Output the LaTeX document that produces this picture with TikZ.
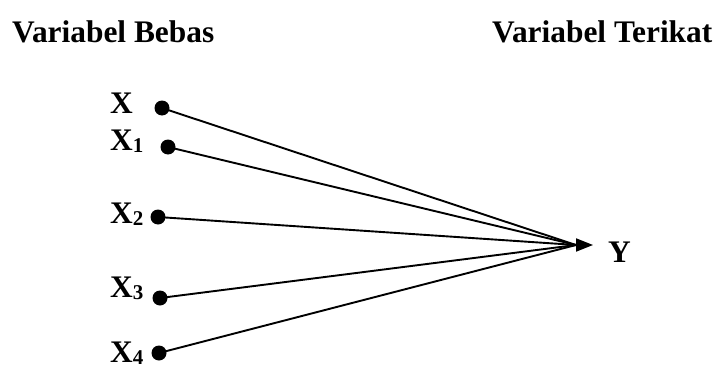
\documentclass[tikz,border=0pt]{standalone}
\usepackage{fontspec}
\setmainfont{Liberation Serif}
\usetikzlibrary{arrows.meta}
\tikzset{
  lbl/.style={inner sep=0pt, anchor=base west, font=\bfseries\fontsize{31.4}{36}\selectfont},
  dot/.style={circle, fill, inner sep=0pt, minimum size=15pt},
}
\newcommand{\sbs}[1]{\raisebox{-2pt}{\fontsize{21}{21}\selectfont #1}}
\begin{document}
\begin{tikzpicture}[x=1pt,y=-1pt]
      \useasboundingbox (0,0) rectangle (723,372);
      \draw
        (12,42) node[lbl] (bebas){Variabel Bebas}
        (492,42) node[lbl] (terikat){Variabel Terikat}
        (110,113) node[lbl] (x){X}
        (110,150) node[lbl] (x1){X\sbs{1}}
        (110,223) node[lbl] (x2){X\sbs{2}}
        (110,297) node[lbl] (x3){X\sbs{3}}
        (110,362) node[lbl] (x4){X\sbs{4}}
        (608,262) node[lbl] (y){Y};
      \draw
        (162,108) node[dot] (d0){}
        (168,147) node[dot] (d1){}
        (158,217) node[dot] (d2){}
        (160,298) node[dot] (d3){}
        (159,353) node[dot] (d4){};
      \coordinate (hub) at (576,245);
      \coordinate (tip) at (593,245);
      \begin{scope}[line width=1.9pt]
        \draw (d0.center) to (hub);
        \draw (d1.center) to (hub);
        \draw (d2.center) to (hub);
        \draw (d3.center) to (hub);
        \draw (d4.center) to (hub);
        \draw[-{Triangle[length=17pt,width=13pt]}] (hub) to (tip);
      \end{scope}
    \end{tikzpicture}
\end{document}
